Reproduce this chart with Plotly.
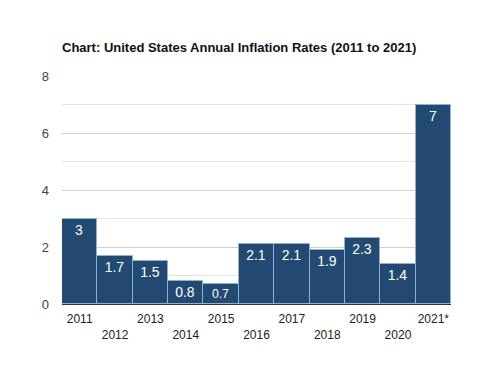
import plotly.graph_objects as go

years = ["2011", "2012", "2013", "2014", "2015", "2016", "2017", "2018", "2019", "2020", "2021*"]
rates = [3, 1.7, 1.5, 0.8, 0.7, 2.1, 2.1, 1.9, 2.3, 1.4, 7]
labels = ["3", "1.7", "1.5", "0.8", "0.7", "2.1", "2.1", "1.9", "2.3", "1.4", "7"]
tick_text = [y if i % 2 == 0 else "<br>" + y for i, y in enumerate(years)]

fig = go.Figure(go.Bar(
    x=years, y=rates, text=labels, textposition="inside", insidetextanchor="end",
    textfont=dict(color="white", size=14, family="Liberation Sans, Arial"),
    marker=dict(color="#234a72", line=dict(color="#8eb1d4", width=1)),
    width=1.0,
))
fig.update_layout(
    width=488, height=380, plot_bgcolor="white", paper_bgcolor="white",
    margin=dict(l=54, r=45, t=68, b=84),
    title=dict(text="<b>Chart: United States Annual Inflation Rates (2011 to 2021)</b>",
               x=54/488, xanchor="left", y=1-39/380, yanchor="middle",
               font=dict(size=13, color="#111", family="Liberation Sans, Arial")),
    font=dict(family="Liberation Sans, Arial", size=12, color="#333"),
    showlegend=False, bargap=0,
)
fig.update_yaxes(range=[0, 8], tickvals=[0, 2, 4, 6, 8], showgrid=True, gridcolor="#cfcfcf",
                 minor=dict(dtick=1, showgrid=True, gridcolor="#e3e3e3"),
                 zeroline=False, ticks="", tickfont=dict(color="#444", size=13), ticklen=0,
                 ticklabelstandoff=12)
fig.update_xaxes(tickvals=years, ticktext=tick_text, showline=True, linecolor="#333",
                 tickfont=dict(color="#222", size=12), ticks="", ticklabelstandoff=4)
fig.write_html("out.html")
